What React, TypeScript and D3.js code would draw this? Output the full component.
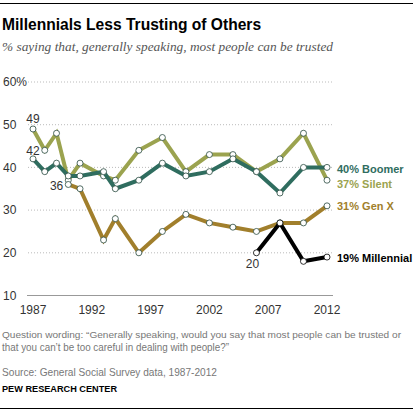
import React from 'react';
import * as d3 from 'd3';

// survey years and % saying most people can be trusted
const years = [1987, 1988, 1989, 1990, 1991, 1993, 1994, 1996, 1998, 2000, 2002, 2004, 2006, 2008, 2010, 2012];
const silent = [49, 44, 48, 37, 41, 38, 37, 44, 47, 39, 43, 43, 39, 42, 48, 37];
const boomer = [42, 39, 41, 38, 38, 39, 35, 37, 41, 38, 39, 42, 39, 34, 40, 40];
const genXYears = [1990, 1991, 1993, 1994, 1996, 1998, 2000, 2002, 2004, 2006, 2008, 2010, 2012];
const genX = [36, 35, 23, 28, 20, 25, 29, 27, 26, 25, 27, 27, 31];
const millYears = [2006, 2008, 2010, 2012];
const millennial = [20, 27, 18, 19];

const yTicks = [10, 20, 30, 40, 50, 60];
const xTicks = [1987, 1992, 1997, 2002, 2007, 2012];

interface Series {
  name: string;
  years: number[];
  values: number[];
  color: string;
  labelDy: number;
}

const series: Series[] = [
  { name: 'Silent', years, values: silent, color: '#9ba34f', labelDy: 4 },
  { name: 'Boomer', years, values: boomer, color: '#2f6d5f', labelDy: 2 },
  { name: 'Gen X', years: genXYears, values: genX, color: '#a17f2c', labelDy: 0.5 },
  { name: 'Millennial', years: millYears, values: millennial, color: '#000000', labelDy: 0.5 },
];

const sans = '"Liberation Sans", Arial, sans-serif';

const App: React.FC = () => {
  const width = 415;
  const height = 412;

  const x = d3.scaleLinear().domain([1987, 2012]).range([33, 327]);
  const y = d3.scaleLinear().domain([10, 60]).range([295.5, 82]);
  const gridX0 = 28;
  const gridX1 = 333;

  const line = d3.line<[number, number]>()
    .x(d => x(d[0]))
    .y(d => y(d[1]));

  return (
    <svg width={width} height={height} style={{ position: 'absolute', left: 0, top: 0, background: '#fff' }}>
      {/* top and bottom rules */}
      <line x1={0} x2={413} y1={3.5} y2={3.5} stroke="#000" strokeWidth={1.2} />
      <line x1={0} x2={413} y1={408.5} y2={408.5} stroke="#000" strokeWidth={1.2} />

      <text x={2} y={30} fontFamily={sans} fontWeight="bold" fontSize={15.6} fill="#000">
        Millennials Less Trusting of Others
      </text>
      <text x={2} y={51} fontFamily='"Liberation Serif", "DejaVu Serif", serif' fontStyle="italic" fontSize={13} fill="#555"
        textLength={331} lengthAdjust="spacingAndGlyphs">
        % saying that, generally speaking, most people can be trusted
      </text>

      {/* gridlines */}
      {yTicks.map(t => (
        <g key={t}>
          <line
            x1={t === 10 ? gridX0 - 1 : gridX0}
            x2={gridX1}
            y1={y(t)}
            y2={y(t)}
            stroke={t === 10 ? '#999' : '#aaa'}
            strokeWidth={t === 10 ? 1 : 0.8}
            strokeDasharray={t === 10 ? undefined : '1,2'}
          />
          <text x={3} y={y(t)} dy="0.36em" fontFamily={sans} fontSize={12} fill="#333">
            {t === 60 ? `${t}%` : t}
          </text>
        </g>
      ))}

      {xTicks.map(t => (
        <text key={t} x={x(t)} y={313.5} textAnchor="middle" fontFamily={sans} fontSize={12} fill="#333">
          {t}
        </text>
      ))}

      {/* series */}
      {series.map(s => {
        const pts = s.years.map((yr, i) => [yr, s.values[i]] as [number, number]);
        return (
          <g key={s.name}>
            <path d={line(pts) || ''} fill="none" stroke={s.color} strokeWidth={4} strokeLinejoin="miter" />
            {pts.map((p, i) => (
              <circle key={i} cx={x(p[0])} cy={y(p[1])} r={3} fill="#fff" stroke={s.name === 'Millennial' ? '#000' : '#2a4a40'} strokeWidth={0.8} />
            ))}
          </g>
        );
      })}

      {/* end labels */}
      {series.map(s => {
        const last = s.values[s.values.length - 1];
        return (
          <text key={s.name} x={x(2012) + 10} y={y(last) + s.labelDy} dy="0.36em" fontFamily={sans} fontWeight="bold" fontSize={11} fill={s.color}>
            {`${last}% ${s.name}`}
          </text>
        );
      })}

      {/* point annotations */}
      <text x={x(1987)} y={y(silent[0]) - 6} textAnchor="middle" fontFamily={sans} fontSize={12} fill="#333">{silent[0]}</text>
      <text x={x(1987)} y={y(boomer[0]) - 4} textAnchor="middle" fontFamily={sans} fontSize={12} fill="#333">{boomer[0]}</text>
      <text x={x(genXYears[0]) - 5} y={y(genX[0]) + 6} textAnchor="end" fontFamily={sans} fontSize={12} fill="#333">{genX[0]}</text>
      <text x={x(millYears[0]) - 4} y={y(millennial[0]) + 15} textAnchor="middle" fontFamily={sans} fontSize={12} fill="#333">{millennial[0]}</text>

      {/* notes */}
      <text x={2} y={338} fontFamily={sans} fontSize={9.8} fill="#777" textLength={399} lengthAdjust="spacingAndGlyphs">
        Question wording: “Generally speaking, would you say that most people can be trusted or
      </text>
      <text x={2} y={351} fontFamily={sans} fontSize={10.5} fill="#777" textLength={227} lengthAdjust="spacingAndGlyphs">
        that you can’t be too careful in dealing with people?”
      </text>
      <text x={2} y={375.5} fontFamily={sans} fontSize={10.5} fill="#777" textLength={215} lengthAdjust="spacingAndGlyphs">
        Source: General Social Survey data, 1987-2012
      </text>
      <text x={2} y={391.5} fontFamily={sans} fontWeight="bold" fontSize={8.8} fill="#000" textLength={115} lengthAdjust="spacingAndGlyphs">
        PEW RESEARCH CENTER
      </text>
    </svg>
  );
};

export default App;
